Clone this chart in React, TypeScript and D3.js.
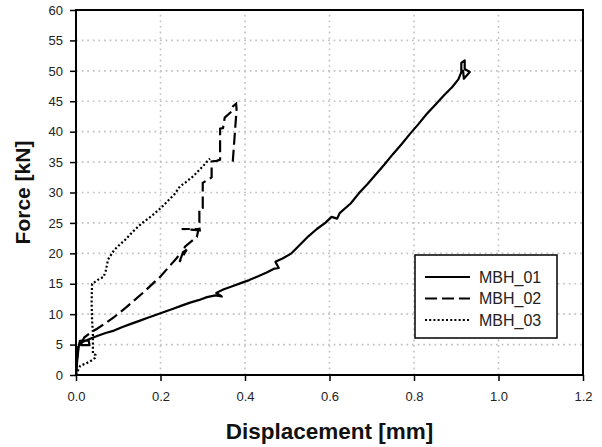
import { useRef, useEffect } from "react";
import * as d3 from "d3";

type Pt = [number, number];

// axis ticks
const xTicks = [0, 0.2, 0.4, 0.6, 0.8, 1.0, 1.2];
const yTicks = [0, 5, 10, 15, 20, 25, 30, 35, 40, 45, 50, 55, 60];

const seriesNames = ["MBH_01", "MBH_02", "MBH_03"];

// MBH_01 - displacement [mm], force [kN]
const mbh01: Pt[] = [
  [0, 0], [0.003, 2.5], [0.006, 4.5], [0.009, 5.6], [0.03, 5.7], [0.032, 4.9], [0.012, 4.9],
  [0.014, 5.4], [0.035, 6.0], [0.05, 6.4], [0.07, 6.9], [0.09, 7.3], [0.11, 7.9], [0.13, 8.4],
  [0.15, 8.9], [0.17, 9.4], [0.19, 9.9], [0.21, 10.4], [0.23, 10.9], [0.25, 11.4],
  [0.27, 11.9], [0.29, 12.3], [0.31, 12.8], [0.33, 13.1], [0.345, 12.9], [0.332, 13.5], [0.35, 14.1],
  [0.37, 14.6], [0.39, 15.1], [0.41, 15.6], [0.43, 16.2], [0.45, 16.8], [0.47, 17.5],
  [0.48, 17.6], [0.472, 18.6], [0.49, 19.2], [0.51, 20.0], [0.53, 21.4], [0.55, 22.8],
  [0.57, 24.0], [0.59, 25.0], [0.605, 26.0], [0.618, 25.7], [0.624, 26.6], [0.65, 28.2],
  [0.67, 29.9], [0.69, 31.4], [0.71, 33.0], [0.73, 34.6], [0.75, 36.3], [0.77, 37.9],
  [0.79, 39.6], [0.81, 41.2], [0.83, 42.9], [0.85, 44.4], [0.87, 45.9], [0.89, 47.3],
  [0.905, 48.6], [0.912, 49.8], [0.912, 51.3], [0.92, 51.7], [0.92, 50.3], [0.932, 49.8],
  [0.918, 48.7], [0.916, 50.2],
];

// MBH_02
const mbh02: Pt[] = [
  [0, 0], [0.003, 3.0], [0.006, 5.0], [0.012, 5.2], [0.02, 6.2], [0.035, 7.0],
  [0.05, 7.6], [0.065, 8.3], [0.09, 9.5], [0.12, 11.2], [0.16, 13.6], [0.2, 16.2],
  [0.238, 19.2], [0.245, 19.8], [0.262, 20.6], [0.245, 18.6], [0.258, 21.1], [0.286, 22.7],
  [0.29, 24.0], [0.25, 24.0], [0.293, 23.8], [0.292, 24.3], [0.292, 27.4], [0.3, 27.5],
  [0.3, 31.6], [0.315, 32.2], [0.321, 32.5], [0.321, 35.1], [0.333, 35.2], [0.341, 35.4],
  [0.341, 40.5], [0.348, 40.6], [0.352, 42.3], [0.368, 43.3], [0.372, 44.2], [0.379, 44.6],
  [0.38, 43.6], [0.371, 35.0],
];

// MBH_03
const mbh03: Pt[] = [
  [0, 0], [0.005, 0.8], [0.01, 1.5], [0.02, 1.8], [0.033, 2.2], [0.045, 2.8],
  [0.046, 3.3], [0.04, 3.5], [0.04, 7.0], [0.038, 9.0], [0.037, 12.0], [0.038, 15.0],
  [0.045, 15.3], [0.055, 15.8], [0.065, 16.1], [0.07, 17.0], [0.076, 19.0], [0.09, 20.5],
  [0.1, 21.2], [0.116, 22.2], [0.135, 23.6], [0.155, 24.9], [0.18, 26.2], [0.2, 27.4],
  [0.22, 28.8], [0.234, 29.8], [0.246, 31.0], [0.258, 31.6], [0.278, 32.7], [0.3, 34.3],
  [0.317, 35.6],
];

const W = 602;
const H = 447;
const margin = { top: 10, right: 19, bottom: 72, left: 76 };
const font = "'Liberation Sans', Arial, sans-serif";

const App = () => {
  const ref = useRef<SVGSVGElement>(null);

  useEffect(() => {
    const svg = d3.select(ref.current);
    svg.selectAll("*").remove();

    const x = d3.scaleLinear().domain([0, 1.2]).range([margin.left, W - margin.right]);
    const y = d3.scaleLinear().domain([0, 60]).range([H - margin.bottom, margin.top]);

    svg.append("rect").attr("width", W).attr("height", H).attr("fill", "#fff");

    /** grid */
    const grid = svg.append("g").attr("stroke", "#c4c4c4").attr("stroke-width", 1.6).attr("stroke-dasharray", "1.8,3.8");
    grid
      .selectAll("line.h")
      .data(yTicks.slice(1, -1))
      .join("line")
      .attr("x1", x(0))
      .attr("x2", x(1.2))
      .attr("y1", (d) => y(d))
      .attr("y2", (d) => y(d));
    grid
      .selectAll("line.v")
      .data(xTicks.slice(1, -1))
      .join("line")
      .attr("y1", y(0))
      .attr("y2", y(60))
      .attr("x1", (d) => x(d))
      .attr("x2", (d) => x(d));

    /** axes */
    const xAxis = svg
      .append("g")
      .attr("transform", `translate(0,${y(0)})`)
      .call(d3.axisBottom(x).tickValues(xTicks).tickSize(6).tickPadding(11).tickFormat(d3.format(".1f")));
    const yAxis = svg
      .append("g")
      .attr("transform", `translate(${x(0)},0)`)
      .call(d3.axisLeft(y).tickValues(yTicks).tickSize(6).tickPadding(7).tickFormat(d3.format("d")));
    [xAxis, yAxis].forEach((g) => {
      g.select(".domain").remove();
      g.selectAll("line").attr("stroke", "#000").attr("stroke-width", 1.5);
      g.selectAll("text").attr("font-family", font).attr("font-size", 13).attr("fill", "#222");
    });

    /** frame */
    svg
      .append("rect")
      .attr("x", x(0))
      .attr("y", y(60))
      .attr("width", x(1.2) - x(0))
      .attr("height", y(0) - y(60))
      .attr("fill", "none")
      .attr("stroke", "#000")
      .attr("stroke-width", 2);

    /** curves */
    const line = d3.line<Pt>().x((d) => x(d[0])).y((d) => y(d[1]));
    const dashes = ["", "12,5", "2,2.2"];

    svg.append("path").attr("d", line(mbh01)).attr("fill", "none").attr("stroke", "#000").attr("stroke-width", 2.2).attr("stroke-linejoin", "round");
    svg.append("path").attr("d", line(mbh02)).attr("fill", "none").attr("stroke", "#000").attr("stroke-width", 2.2).attr("stroke-dasharray", dashes[1]);
    svg.append("path").attr("d", line(mbh03)).attr("fill", "none").attr("stroke", "#000").attr("stroke-width", 2.2).attr("stroke-dasharray", dashes[2]);

    /** legend */
    const lg = svg.append("g");
    lg.append("rect")
      .attr("x", 415)
      .attr("y", 255)
      .attr("width", 142)
      .attr("height", 83)
      .attr("fill", "#fff")
      .attr("stroke", "#000")
      .attr("stroke-width", 1.5);
    seriesNames.forEach((name, i) => {
      const ly = 277 + i * 21.5;
      lg.append("line")
        .attr("x1", 425)
        .attr("x2", 470)
        .attr("y1", ly)
        .attr("y2", ly)
        .attr("stroke", "#000")
        .attr("stroke-width", 2.2)
        .attr("stroke-dasharray", dashes[i] || null);
      lg.append("text")
        .attr("x", 479)
        .attr("y", ly)
        .attr("dy", "0.36em")
        .attr("font-family", font)
        .attr("font-size", 16)
        .attr("fill", "#222")
        .text(name);
    });

    /** axis titles */
    svg
      .append("text")
      .attr("x", (x(0) + x(1.2)) / 2)
      .attr("y", 439)
      .attr("text-anchor", "middle")
      .attr("font-family", font)
      .attr("font-weight", "bold")
      .attr("font-size", 22.5)
      .attr("fill", "#111")
      .text("Displacement [mm]");
    svg
      .append("text")
      .attr("transform", `translate(30,${(y(0) + y(60)) / 2}) rotate(-90)`)
      .attr("text-anchor", "middle")
      .attr("font-family", font)
      .attr("font-weight", "bold")
      .attr("font-size", 21)
      .attr("fill", "#111")
      .text("Force [kN]");
  }, []);

  return <svg ref={ref} width={W} height={H} style={{ position: "absolute", left: 0, top: 0 }} />;
};

export default App;
